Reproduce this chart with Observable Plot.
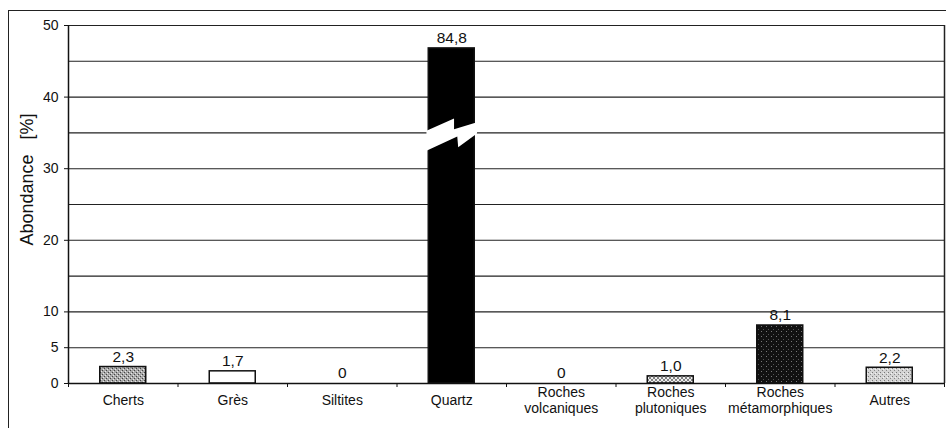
<!DOCTYPE html>
<html><head><meta charset="utf-8">
<script src="https://cdn.jsdelivr.net/npm/d3@7"></script>
<script src="https://cdn.jsdelivr.net/npm/@observablehq/plot@0.6"></script>
<style>
body{margin:0;background:#fff;}
#wrap{position:relative;width:946px;height:428px;overflow:hidden;}
#wrap svg{position:absolute;left:0;top:0;}
#frame{position:absolute;left:8px;top:10px;width:960px;height:440px;border-left:1.5px solid #222;border-top:1.5px solid #222;pointer-events:none;}
</style></head><body><div id="wrap"><div id="frame"></div></div>
<script>
const categories = ["Cherts","Grès","Siltites","Quartz","Roches\nvolcaniques","Roches\nplutoniques","Roches\nmétamorphiques","Autres"];
const values = [2.3, 1.7, 0, 84.8, 0, 1.0, 8.1, 2.2];
// Quartz bar is drawn cut (broken axis) at this height
const shownValues = [2.3, 1.7, 0, 46.8, 0, 1.0, 8.1, 2.2];
const valueLabels = ["2,3", "1,7", "0", "84,8", "0", "1,0", "8,1", "2,2"];
const fills = ["url(#p-cherts)", "white", "none", "black", "none", "url(#p-pluto)", "url(#p-meta)", "url(#p-autres)"];
const yTicks = [0, 5, 10, 20, 30, 40, 50];
const gridValues = [5, 10, 15, 20, 25, 30, 35, 40, 45, 50];
const yLabel = "Abondance\u00a0\u00a0\u00a0[%]";
// break symbol on the Quartz bar: [fraction across bar, value]
const breakIndex = 3;
const breakShape = [[-0.05, 35.3], [0.55, 37.0], [0.55, 35.5], [1.05, 36.5], [1.05, 34.9], [0.64, 33.0], [0.62, 34.5], [-0.05, 32.5]];

const barW = 0.42;
const data = categories.map((c, i) => ({i, c, v: values[i], shown: shownValues[i], label: valueLabels[i], fill: fills[i]}));
const breakPts = breakShape.map(([f, y]) => ({x: breakIndex + 0.5 + (f - 0.5) * barW, y}));

const plot = Plot.plot({
  width: 946, height: 428,
  marginLeft: 68, marginRight: 2, marginTop: 25, marginBottom: 45,
  style: {fontFamily: "'Liberation Sans', Arial, sans-serif", fontSize: "14px", background: "transparent", color: "#111"},
  x: {domain: [0, categories.length], ticks: d3.range(categories.length + 1), tickFormat: () => "", tickSize: 4, label: null},
  y: {domain: [0, 50], ticks: yTicks, tickSize: 4, tickPadding: 6, label: null},
  color: {type: "identity"},
  marks: [
    Plot.ruleY(gridValues, {stroke: "#222", strokeWidth: 1.1}),
    Plot.rect(data.filter(d => d.shown > 0), {
      x1: d => d.i + 0.5 - barW / 2, x2: d => d.i + 0.5 + barW / 2,
      y1: d => 0, y2: "shown", fill: "fill", stroke: "#111", strokeWidth: 1.5
    }),
    Plot.line(breakPts, {x: "x", y: "y", fill: "white", stroke: "none", curve: "linear-closed"}),
    Plot.ruleY([0], {stroke: "#111", strokeWidth: 1.5}),
    Plot.ruleX([0], {stroke: "#111", strokeWidth: 1.5}),
    Plot.ruleX([categories.length], {stroke: "#222", strokeWidth: 1.5}),
    Plot.text(data, {x: d => d.i + 0.5, y: "shown", text: "label", dy: -10, fontSize: 15.5}),
    Plot.text(data, {x: d => d.i + 0.5, y: d => 0, text: "c", dy: 16, fontSize: 14, lineHeight: 1.15}),
    Plot.text([yLabel], {text: d => d, frameAnchor: "left", textAnchor: "middle", rotate: -90, dx: -41, dy: -25, fontSize: 18})
  ]
});

plot.insertAdjacentHTML("afterbegin", `<defs>
<pattern id="p-cherts" width="4" height="4" patternUnits="userSpaceOnUse">
<rect width="4" height="4" fill="#a8a8a8"/><rect x="0" y="0" width="1" height="1" fill="#444"/><rect x="2" y="2" width="1" height="1" fill="#444"/><rect x="1" y="3" width="1" height="1" fill="#e8e8e8"/><rect x="3" y="1" width="1" height="1" fill="#e8e8e8"/>
</pattern>
<pattern id="p-autres" width="4" height="4" patternUnits="userSpaceOnUse">
<rect width="4" height="4" fill="#d4d4d4"/><rect x="0" y="0" width="1" height="1" fill="#777"/><rect x="2" y="2" width="1" height="1" fill="#888"/><rect x="3" y="1" width="1" height="1" fill="#f4f4f4"/>
</pattern>
<pattern id="p-pluto" width="4" height="4" patternUnits="userSpaceOnUse">
<rect width="4" height="4" fill="#eeeeee"/><path d="M0,4 L4,0 M0,0 L4,4" stroke="#666" stroke-width="0.8"/>
</pattern>
<pattern id="p-meta" width="5" height="5" patternUnits="userSpaceOnUse">
<rect width="5" height="5" fill="#111"/><rect x="1" y="1" width="1" height="1" fill="#777"/><rect x="3" y="4" width="1" height="1" fill="#555"/>
</pattern>
</defs>`);
document.getElementById("wrap").appendChild(plot);
</script>
</body></html>
